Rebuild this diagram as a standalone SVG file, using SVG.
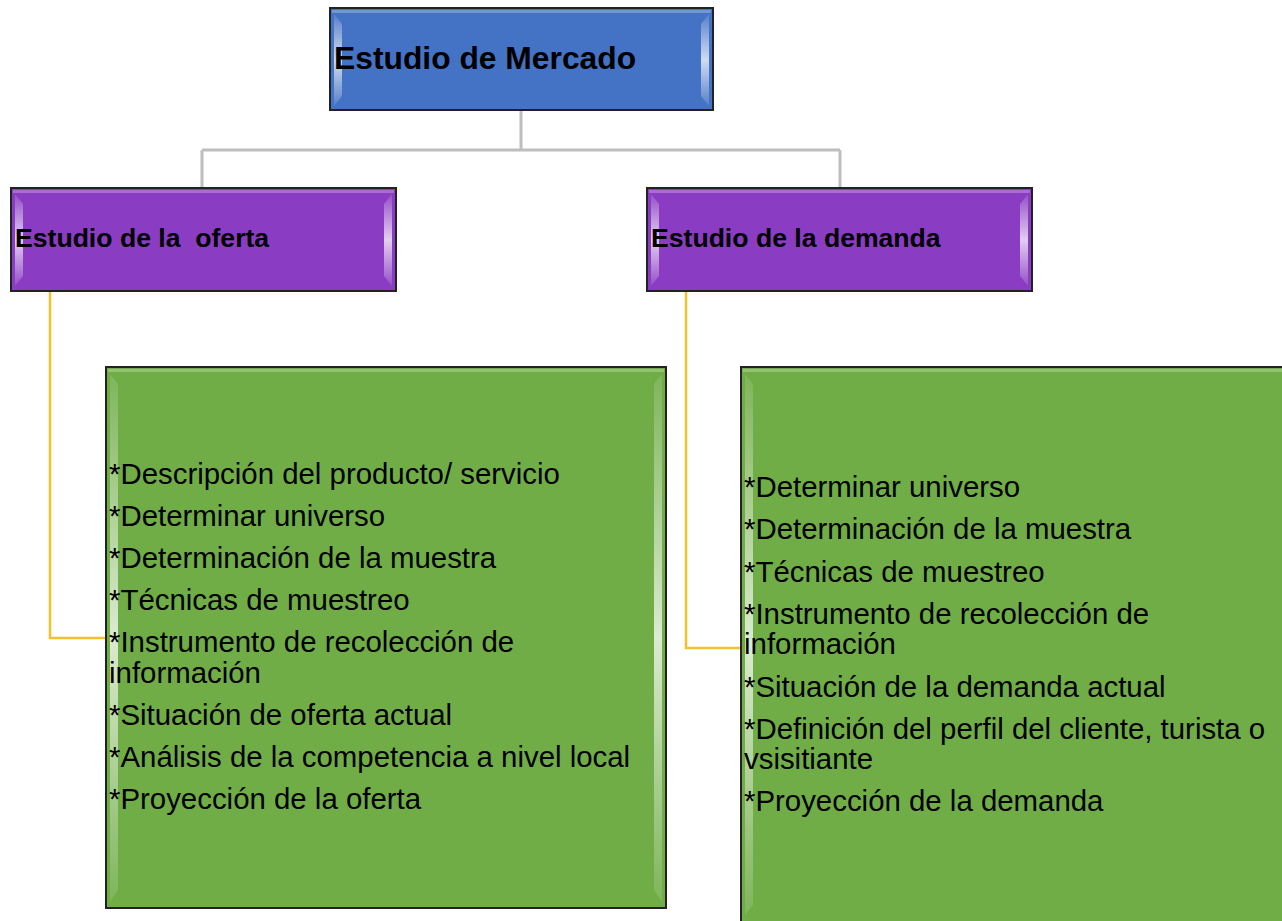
<svg xmlns="http://www.w3.org/2000/svg" width="1282" height="921" viewBox="0 0 1282 921">
<defs>
<linearGradient id="hl" x1="0" y1="0" x2="0" y2="1">
<stop offset="0" stop-color="#ffffff" stop-opacity="0.1"/>
<stop offset="0.5" stop-color="#ffffff" stop-opacity="0.75"/>
<stop offset="1" stop-color="#ffffff" stop-opacity="0.1"/>
</linearGradient>
</defs>
<style>
.box{stroke:#222;stroke-width:2}
.blue{fill:#4472C4}
.purple{fill:#8A3CC3}
.green{fill:#70AD47}
.edge{fill:url(#hl)}
.t1{font-family:"Liberation Sans",Arial,sans-serif;font-weight:bold;font-size:31.8px;fill:#000}
.t2{font-family:"Liberation Sans",Arial,sans-serif;font-weight:bold;font-size:26.6px;fill:#000;white-space:pre}
.t3{font-family:"Liberation Sans",Arial,sans-serif;font-size:29.4px;fill:#000}
.gray{fill:none;stroke:#BEBEBE;stroke-width:3}
.gold{fill:none;stroke:#F2C12E;stroke-width:2.5}
</style>
<g id="connectors">
<path class="gray" d="M521 110 V150 M202 150 H840 M202 150 V188 M840 150 V188"/>
<path class="gold" d="M50 291 V638 H107"/>
<path class="gold" d="M686 291 V648 H742"/>
</g>
<g id="node-mercado">
<rect class="box blue" x="330" y="8" width="383" height="102"/>
<polygon class="edge" points="334,14 342,24 342,96 334,106"/>
<polygon class="edge" points="709,14 701,24 701,96 709,106"/>
<rect x="332" y="10" width="379" height="3" fill="#ffffff" opacity="0.25"/>
<text class="t1" x="334" y="69">Estudio de Mercado</text>
</g>
<g id="node-oferta">
<rect class="box purple" x="11" y="188" width="385" height="103"/>
<polygon class="edge" points="15,194 23,204 23,276 15,286"/>
<polygon class="edge" points="392,194 384,204 384,276 392,286"/>
<rect x="13" y="190" width="381" height="3" fill="#ffffff" opacity="0.25"/>
<text class="t2" x="15" y="247" xml:space="preserve">Estudio de la  oferta</text>
</g>
<g id="node-demanda">
<rect class="box purple" x="647" y="188" width="385" height="103"/>
<polygon class="edge" points="651,194 659,204 659,276 651,286"/>
<polygon class="edge" points="1028,194 1020,204 1020,276 1028,286"/>
<rect x="649" y="190" width="381" height="3" fill="#ffffff" opacity="0.25"/>
<text class="t2" x="651" y="247">Estudio de la demanda</text>
</g>
<g id="node-oferta-items">
<rect class="box green" x="106" y="367" width="560" height="541"/>
<polygon class="edge" points="110,374 118,384 118,890 110,902"/>
<polygon class="edge" points="662,374 654,384 654,890 662,902"/>
<rect x="108" y="369" width="556" height="3" fill="#ffffff" opacity="0.25"/>
<text class="t3" x="109">
<tspan x="109" y="484">*Descripción del producto/ servicio</tspan>
<tspan x="109" y="526">*Determinar universo</tspan>
<tspan x="109" y="568">*Determinación de la muestra</tspan>
<tspan x="109" y="610">*Técnicas de muestreo</tspan>
<tspan x="109" y="652">*Instrumento de recolección de</tspan>
<tspan x="109" y="683">información</tspan>
<tspan x="109" y="725">*Situación de oferta actual</tspan>
<tspan x="109" y="767">*Análisis de la competencia a nivel local</tspan>
<tspan x="109" y="809">*Proyección de la oferta</tspan>
</text>
</g>
<g id="node-demanda-items">
<rect class="box green" x="741" y="367" width="560" height="570"/>
<polygon class="edge" points="745,374 753,384 753,905 745,915"/>
<rect x="743" y="369" width="556" height="3" fill="#ffffff" opacity="0.25"/>
<text class="t3" x="744">
<tspan x="744" y="497">*Determinar universo</tspan>
<tspan x="744" y="539">*Determinación de la muestra</tspan>
<tspan x="744" y="582">*Técnicas de muestreo</tspan>
<tspan x="744" y="624">*Instrumento de recolección de</tspan>
<tspan x="744" y="654">información</tspan>
<tspan x="744" y="697">*Situación de la demanda actual</tspan>
<tspan x="744" y="739">*Definición del perfil del cliente, turista o</tspan>
<tspan x="744" y="769">vsisitiante</tspan>
<tspan x="744" y="811">*Proyección de la demanda</tspan>
</text>
</g>
</svg>
